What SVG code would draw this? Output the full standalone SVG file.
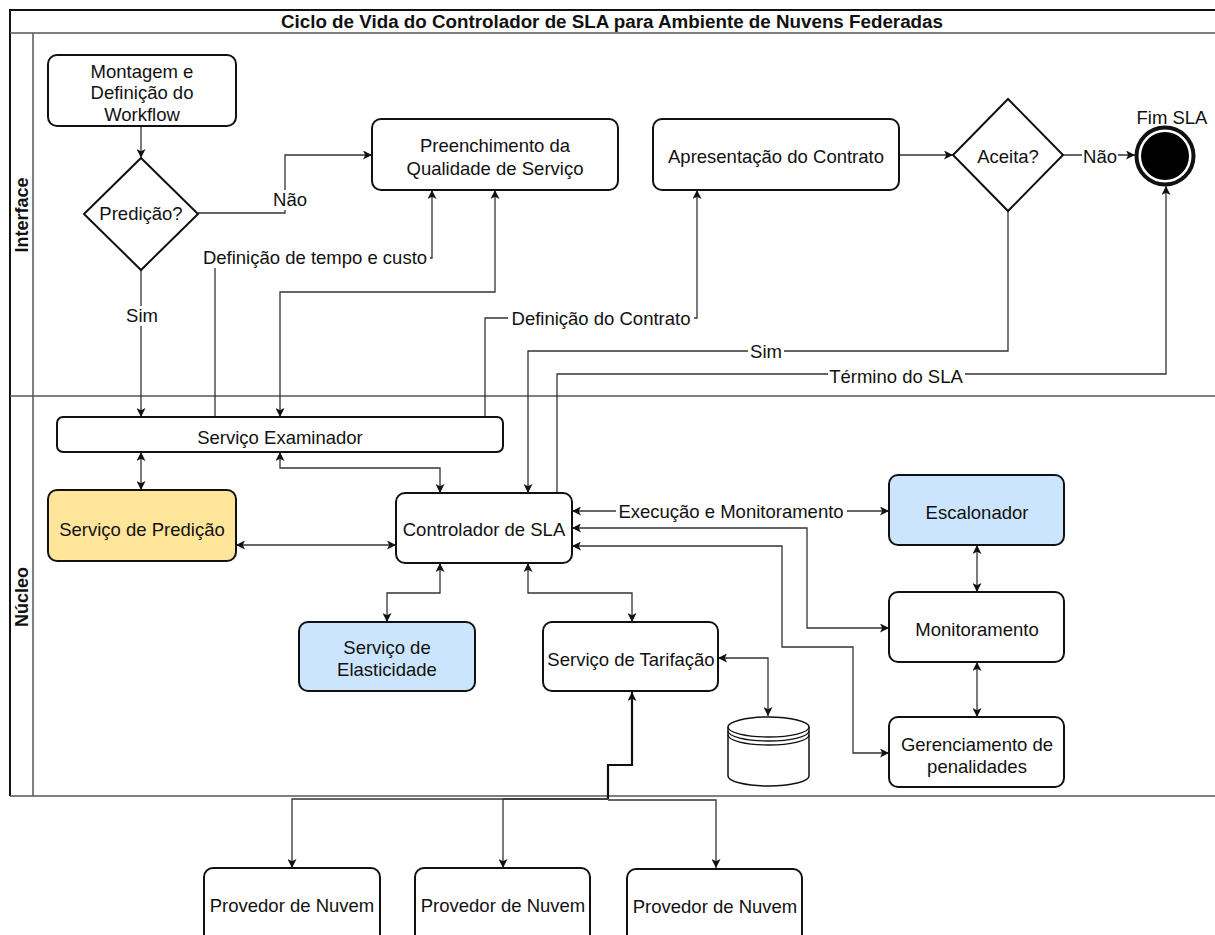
<svg xmlns="http://www.w3.org/2000/svg" width="1215" height="935" viewBox="0 0 1215 935">
  <defs>
    <marker id="arrow" viewBox="0 0 10 10" refX="10" refY="5" markerWidth="9" markerHeight="9" markerUnits="userSpaceOnUse" orient="auto-start-reverse">
      <path d="M0,0 L10,5 L0,10 L2.5,5 Z" fill="#111"/>
    </marker>
    <style>
      .node { fill: #ffffff; stroke: #111; stroke-width: 2; }
      .yellow { fill: #ffe59a; }
      .blue { fill: #cce5ff; }
      .lane { fill: none; stroke: #555; stroke-width: 1.5; }
      .edge { fill: none; stroke: #333; stroke-width: 1.3; }
      .trunk { stroke: #111; stroke-width: 2.2; }
      .one { marker-end: url(#arrow); }
      .two { marker-start: url(#arrow); marker-end: url(#arrow); }
      .bg { fill: #ffffff; }
      text { font-family: "Liberation Sans", Arial, sans-serif; font-size: 18.5px; fill: #111; text-anchor: middle; }
      .title { font-weight: bold; font-size: 18.8px; }
      .lanetitle { font-weight: bold; font-size: 18px; }
    </style>
  </defs>

  <!-- pool and lanes -->
  <g id="pool">
    <rect x="0" y="0" width="1215" height="935" fill="#ffffff"/>
    <path d="M10,796 V10 H1215" fill="none" stroke="#111" stroke-width="2"/>
    <path class="lane" d="M10,33 H1215 M33,33 V796 M10,396 H1215 M10,796 H1215"/>
    <text class="title" x="612" y="28">Ciclo de Vida do Controlador de SLA para Ambiente de Nuvens Federadas</text>
    <text class="lanetitle" transform="translate(28,215) rotate(-90)">Interface</text>
    <text class="lanetitle" transform="translate(28,597) rotate(-90)">Núcleo</text>
  </g>

  <!-- connectors -->
  <g id="connectors">
    <path class="edge one" d="M141,126 V158"/>
    <path class="edge one" d="M198,213 H285 V155 H372"/>
    <path class="edge one" d="M141,270 V417"/>
    <path class="edge one" d="M215,417 V258 H432 V190"/>
    <path class="edge two" d="M495,190 V292 H280 V417"/>
    <path class="edge one" d="M485,417 V318 H697 V190"/>
    <path class="edge one" d="M899,155 H953"/>
    <path class="edge one" d="M1063,155 H1135"/>
    <path class="edge one" d="M1008,211 V351 H528 V493"/>
    <path class="edge one" d="M557,493 V374 H1166 V186"/>
    <path class="edge two" d="M141,452 V490"/>
    <path class="edge two" d="M280,452 V468 H440 V493"/>
    <path class="edge two" d="M236,545 H396"/>
    <path class="edge two" d="M440,563 V593 H387 V622"/>
    <path class="edge two" d="M528,563 V593 H632 V622"/>
    <path class="edge two" d="M572,511 H889"/>
    <path class="edge two" d="M572,528 H807 V628 H889"/>
    <path class="edge two" d="M572,546 H782 V647 H853 V753 H889"/>
    <path class="edge two" d="M718,658 H768 V716"/>
    <path class="edge two" d="M977,545 V592"/>
    <path class="edge two" d="M977,662 V717"/>
    <!-- shared trunk from the providers up to Tarifação -->
    <path class="edge trunk one" d="M608,799 V765 H632 V692"/>
    <path class="edge one" d="M608,799 H292 V868"/>
    <path class="edge one" d="M608,799 H503 V868"/>
    <path class="edge one" d="M608,800 H716 V868"/>

    <!-- connector labels on white backing -->
    <rect class="bg" x="272" y="190" width="36" height="20"/>
    <text x="290" y="206">Não</text>
    <rect class="bg" x="124" y="306" width="36" height="20"/>
    <text x="142" y="322">Sim</text>
    <rect class="bg" x="201" y="248" width="229" height="20"/>
    <text x="315" y="264">Definição de tempo e custo</text>
    <rect class="bg" x="508" y="309" width="186" height="20"/>
    <text x="601" y="325">Definição do Contrato</text>
    <rect class="bg" x="748" y="342" width="36" height="20"/>
    <text x="766" y="358">Sim</text>
    <rect class="bg" x="828" y="367" width="137" height="20"/>
    <text x="896" y="383">Término do SLA</text>
    <rect class="bg" x="616" y="502" width="231" height="20"/>
    <text x="731" y="518">Execução e Monitoramento</text>
    <rect class="bg" x="1082" y="147" width="36" height="20"/>
    <text x="1100" y="163">Não</text>
  </g>

  <!-- Interface lane -->
  <g id="montagem">
    <rect class="node" x="48" y="55" width="188" height="71" rx="9"/>
    <text x="142" y="78">Montagem e</text>
    <text x="142" y="99">Definição do</text>
    <text x="142" y="121">Workflow</text>
  </g>
  <g id="predicao-decisao">
    <path class="node" d="M141,158 L198,214 L141,270 L84,214 Z"/>
    <text x="141" y="220">Predição?</text>
  </g>
  <g id="preenchimento">
    <rect class="node" x="372" y="119" width="246" height="71" rx="9"/>
    <text x="495" y="152">Preenchimento da</text>
    <text x="495" y="175">Qualidade de Serviço</text>
  </g>
  <g id="apresentacao">
    <rect class="node" x="653" y="119" width="246" height="71" rx="9"/>
    <text x="776" y="163">Apresentação do Contrato</text>
  </g>
  <g id="aceita">
    <path class="node" d="M1008,99 L1063,155 L1008,211 L953,155 Z"/>
    <text x="1008" y="163">Aceita?</text>
  </g>
  <g id="fim-sla">
    <circle cx="1165" cy="156" r="28.5" fill="#ffffff" stroke="#111" stroke-width="4"/>
    <circle cx="1165" cy="156" r="24" fill="#000000"/>
    <text x="1172" y="124">Fim SLA</text>
  </g>

  <!-- Núcleo lane -->
  <g id="examinador">
    <rect class="node" x="57" y="417" width="446" height="35" rx="6"/>
    <text x="280" y="444">Serviço Examinador</text>
  </g>
  <g id="servico-predicao">
    <rect class="node yellow" x="48" y="490" width="188" height="71" rx="9"/>
    <text x="142" y="536">Serviço de Predição</text>
  </g>
  <g id="controlador">
    <rect class="node" x="396" y="493" width="176" height="70" rx="9"/>
    <text x="484" y="536">Controlador de SLA</text>
  </g>
  <g id="escalonador">
    <rect class="node blue" x="889" y="475" width="175" height="70" rx="9"/>
    <text x="977" y="519">Escalonador</text>
  </g>
  <g id="monitoramento">
    <rect class="node" x="889" y="592" width="175" height="70" rx="9"/>
    <text x="977" y="636">Monitoramento</text>
  </g>
  <g id="penalidades">
    <rect class="node" x="889" y="717" width="175" height="70" rx="9"/>
    <text x="977" y="751">Gerenciamento de</text>
    <text x="977" y="773">penalidades</text>
  </g>
  <g id="elasticidade">
    <rect class="node blue" x="299" y="622" width="176" height="69" rx="9"/>
    <text x="387" y="654">Serviço de</text>
    <text x="387" y="676">Elasticidade</text>
  </g>
  <g id="tarifacao">
    <rect class="node" x="543" y="622" width="175" height="69" rx="9"/>
    <text x="631" y="666">Serviço de Tarifação</text>
  </g>
  <g id="banco-dados">
    <path d="M728,727 A40.5,10 0 0 1 809,727 V776 A40.5,10 0 0 1 728,776 Z" fill="#ffffff" stroke="#111" stroke-width="1.5"/>
    <path d="M728,727 A40.5,10 0 0 0 809,727 M728,731 A40.5,10 0 0 0 809,731 M728,735 A40.5,10 0 0 0 809,735" fill="none" stroke="#111" stroke-width="1.3"/>
  </g>

  <!-- cloud providers -->
  <g id="provedor-1">
    <rect class="node" x="204" y="868" width="176" height="80" rx="9"/>
    <text x="292" y="912">Provedor de Nuvem</text>
  </g>
  <g id="provedor-2">
    <rect class="node" x="415" y="868" width="175" height="80" rx="9"/>
    <text x="503" y="912">Provedor de Nuvem</text>
  </g>
  <g id="provedor-3">
    <rect class="node" x="627" y="869" width="175" height="80" rx="9"/>
    <text x="715" y="913">Provedor de Nuvem</text>
  </g>
</svg>
